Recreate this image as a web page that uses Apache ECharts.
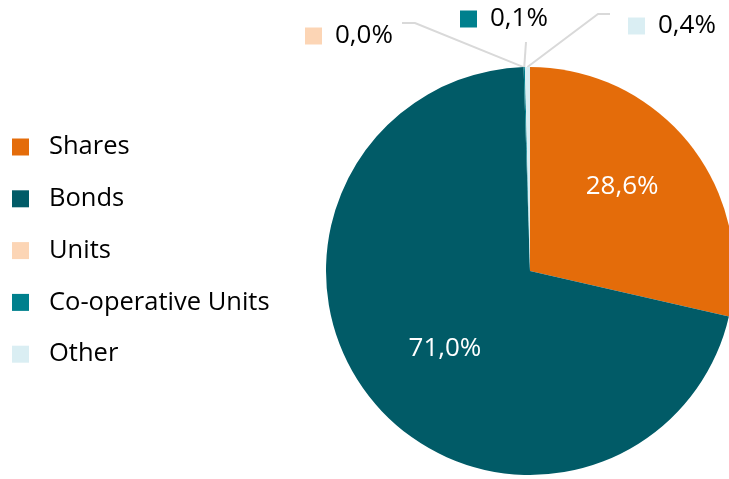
<!DOCTYPE html>
<html lang="en">
<head>
    <meta charset="UTF-8">
    <title>Portfolio split</title>
    <script src="https://cdn.jsdelivr.net/npm/echarts@6.0.0/dist/echarts.min.js"></script>
    <style>
        html, body { margin: 0; padding: 0; background: #fff; }
        #chart { width: 729px; height: 479px; }
    </style>
</head>
<body>
    <div id="chart"></div>
    <script>
        // data
        const categories = ['Shares', 'Bonds', 'Units', 'Co-operative Units', 'Other'];
        const shares = [28.6, 71.0, 0.0, 0.1, 0.4];
        const colors = ['#E46C0A', '#015B67', '#FCD5B5', '#00808D', '#DAEEF3'];

        const fmt = v => v.toFixed(1).replace('.', ',') + '%';

        // where the small outside labels sit (left edge of marker, middle y) and their line elbows
        const outside = {
            2: { x: 305, y: 36, line: [[415, 23], [402, 23]] },
            3: { x: 460, y: 19, line: [[526, 42]] },
            4: { x: 628, y: 26, line: [[598, 14], [610, 14]] }
        };
        const insideNudge = { 0: [10, -19], 1: [-4, 11] };

        const chart = echarts.init(document.getElementById('chart'));
        chart.setOption({
            animation: false,
            legend: {
                orient: 'vertical',
                left: 7,
                top: 129,
                itemWidth: 17,
                itemHeight: 17,
                itemGap: 25.8,
                icon: 'rect',
                data: categories,
                textStyle: { fontFamily: 'Open Sans', fontSize: 25.5, color: '#000', padding: [0, 0, 0, 15], lineHeight: 25 }
            },
            series: [{
                type: 'pie',
                center: [530, 271],
                radius: 204,
                startAngle: 90,
                clockwise: true,
                avoidLabelOverlap: false,
                itemStyle: { borderWidth: 0 },
                data: categories.map((name, i) => {
                    const isInside = i < 2;
                    return {
                        name: name,
                        value: shares[i],
                        itemStyle: { color: colors[i] },
                        label: isInside ? {
                            show: true,
                            position: 'inside',
                            formatter: p => fmt(p.value),
                            color: '#fff',
                            fontFamily: 'Open Sans',
                            fontSize: 26
                        } : {
                            show: true,
                            position: 'outside',
                            formatter: p => '{sq|}{v|' + fmt(p.value) + '}',
                            rich: {
                                sq: { width: 17, height: 17, backgroundColor: colors[i] },
                                v: { fontFamily: 'Open Sans', fontSize: 26, color: '#000', padding: [0, 0, 0, 13] }
                            }
                        },
                        labelLine: isInside ? { show: false } : {
                            show: true,
                            lineStyle: { color: '#D9D9D9', width: 2 }
                        }
                    };
                }),
                labelLayout: function (params) {
                    const i = params.dataIndex;
                    if (insideNudge[i]) {
                        return { dx: insideNudge[i][0], dy: insideNudge[i][1] };
                    }
                    const o = outside[i];
                    const start = params.labelLinePoints ? params.labelLinePoints[0] : [530, 67];
                    return {
                        x: o.x,
                        y: o.y,
                        align: 'left',
                        verticalAlign: 'middle',
                        labelLinePoints: [start].concat(o.line)
                    };
                }
            }]
        });
    </script>
</body>
</html>
